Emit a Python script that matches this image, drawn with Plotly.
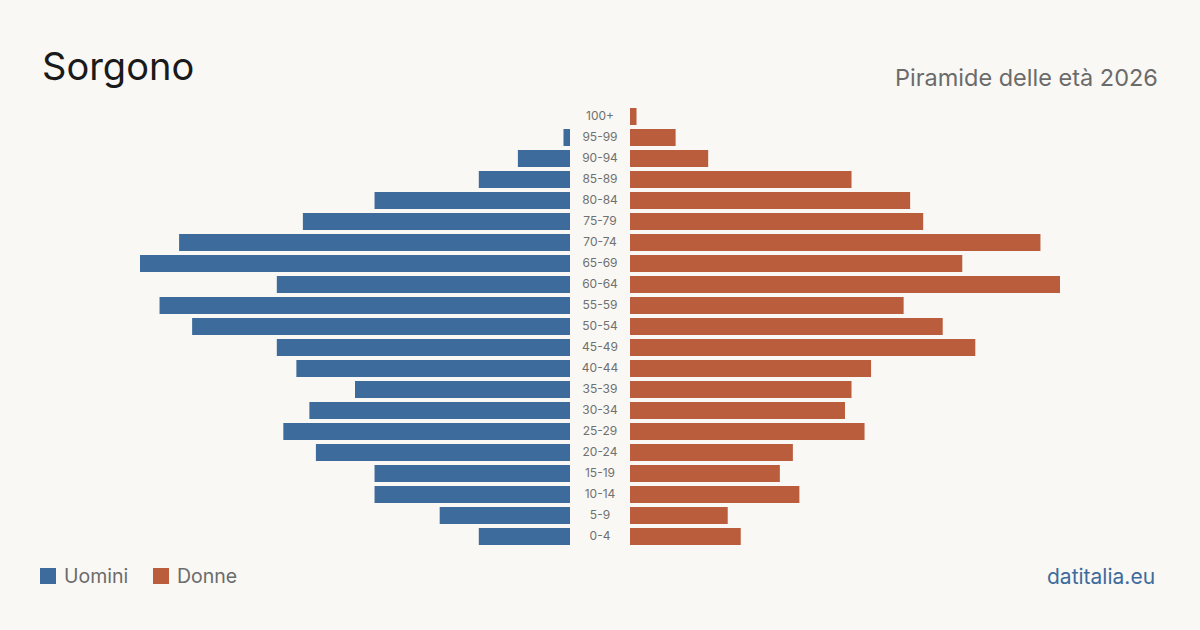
import plotly.graph_objects as go

# Data
age_groups = ["0-4", "5-9", "10-14", "15-19", "20-24", "25-29", "30-34", "35-39",
              "40-44", "45-49", "50-54", "55-59", "60-64", "65-69", "70-74", "75-79",
              "80-84", "85-89", "90-94", "95-99", "100+"]
uomini = [14, 20, 30, 30, 39, 44, 40, 33, 42, 45, 58, 63, 45, 66, 60, 41, 30, 14, 8, 1, 0]
donne = [17, 15, 26, 23, 25, 36, 33, 34, 37, 53, 48, 42, 66, 51, 63, 45, 43, 34, 12, 7, 1]

title = "Sorgono"
subtitle = "Piramide delle età 2026"
source = "datitalia.eu"
legend_names = ["Uomini", "Donne"]

BLUE = "#3d6b9c"
RED = "#b95d3d"
BG = "#f9f8f4"
FONT = "Inter"

xmax = 66 * 570 / 430

fig = go.Figure()
fig.add_trace(go.Bar(y=age_groups, x=uomini, orientation="h", marker=dict(color=BLUE, line=dict(width=0)),
                     xaxis="x", yaxis="y", name=legend_names[0], showlegend=False,
                     hoverinfo="x+y"))
fig.add_trace(go.Bar(y=age_groups, x=donne, orientation="h", marker=dict(color=RED, line=dict(width=0)),
                     xaxis="x2", yaxis="y", name=legend_names[1], showlegend=False,
                     hoverinfo="x+y"))
fig.add_trace(go.Scatter(y=age_groups, x=[0.5] * len(age_groups), mode="text",
                         text=age_groups, textfont=dict(family=FONT, size=12, color="#707070"),
                         xaxis="x3", yaxis="y", showlegend=False, hoverinfo="skip"))

ydom = [(630 - 547) / 630, (630 - 106) / 630]
axis_common = dict(showgrid=False, zeroline=False, showticklabels=False, showline=False, fixedrange=True)
fig.update_layout(
    width=1200, height=630,
    margin=dict(l=0, r=0, t=0, b=0),
    paper_bgcolor=BG, plot_bgcolor=BG,
    bargap=0.19,
    xaxis=dict(domain=[0, 0.475], range=[xmax, 0], **axis_common),
    xaxis2=dict(domain=[0.525, 1], range=[0, xmax], **axis_common),
    xaxis3=dict(domain=[0.475, 0.525], range=[0, 1], **axis_common),
    yaxis=dict(domain=ydom, range=[-0.5, len(age_groups) - 0.5], type="category",
               categoryorder="array", categoryarray=age_groups, **axis_common),
    font=dict(family=FONT),
)

annotations = [
    dict(text=title, x=40, y=630 - 66, xref="paper", yref="paper", showarrow=False,
         xanchor="left", yanchor="middle", font=dict(family=FONT, size=38, color="#1a1a1a")),
    dict(text=subtitle, x=1160, y=630 - 77, xref="paper", yref="paper", showarrow=False,
         xanchor="right", yanchor="middle", font=dict(family=FONT, size=23.5, color="#6b6b6b")),
    dict(text=source, x=1157, y=630 - 576, xref="paper", yref="paper", showarrow=False,
         xanchor="right", yanchor="middle", font=dict(family=FONT, size=21, color=BLUE)),
    dict(text=legend_names[0], x=62, y=630 - 576, xref="paper", yref="paper", showarrow=False,
         xanchor="left", yanchor="middle", font=dict(family=FONT, size=19.5, color="#6b6b6b")),
    dict(text=legend_names[1], x=175, y=630 - 576, xref="paper", yref="paper", showarrow=False,
         xanchor="left", yanchor="middle", font=dict(family=FONT, size=19.5, color="#6b6b6b")),
]
for a in annotations:
    a["x"] = a["x"] / 1200
    a["y"] = a["y"] / 630
fig.update_layout(annotations=annotations)

shapes = []
for x0, c in [(40, BLUE), (153, RED)]:
    shapes.append(dict(type="rect", xref="paper", yref="paper",
                       x0=x0 / 1200, x1=(x0 + 16) / 1200,
                       y0=(630 - 584) / 630, y1=(630 - 568) / 630,
                       fillcolor=c, line=dict(width=0)))
fig.update_layout(shapes=shapes)

fig.write_html("out.html", config={"displayModeBar": False})
